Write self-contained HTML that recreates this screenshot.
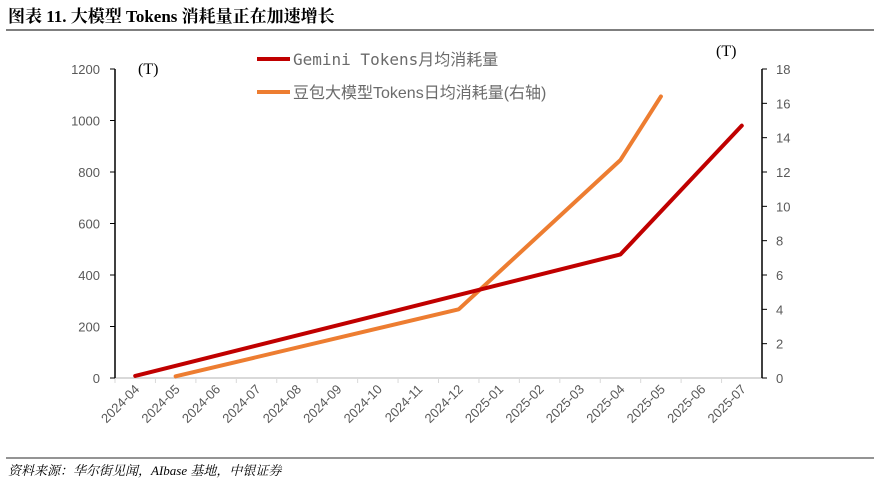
<!DOCTYPE html>
<html><head><meta charset="utf-8"><style>
body{margin:0;background:#fff;width:880px;height:484px;overflow:hidden}
svg text{font-family:"Liberation Sans","Noto Sans CJK SC",sans-serif}
</style></head><body>
<svg id="c" width="880" height="484">
<text x="8" y="22" font-size="17" font-weight="bold" style="font-family:'Liberation Serif','Noto Serif CJK SC',serif">图表 11. 大模型 Tokens 消耗量正在加速增长</text>
<line x1="6" y1="30" x2="874" y2="30" stroke="#333" stroke-width="1.2"/>
<line x1="6" y1="458" x2="874" y2="458" stroke="#555" stroke-width="1.2"/>
<text x="8" y="475" font-size="13" font-style="italic" style="font-family:'Liberation Serif','Noto Serif CJK SC',serif">资料来源：华尔街见闻，AIbase 基地，中银证券</text>
<text x="138" y="74" font-size="16" style="font-family:'Liberation Serif',serif">(T)</text>
<text x="716" y="56" font-size="16" style="font-family:'Liberation Serif',serif">(T)</text>
<g>
<line x1="257" y1="59" x2="290" y2="59" stroke="#c00000" stroke-width="4"/>
<text x="293" y="65" font-size="16" fill="#6b6b6b" style="font-family:'DejaVu Sans Mono','Noto Sans CJK SC',monospace">Gemini Tokens月均消耗量</text>
<line x1="257" y1="92" x2="290" y2="92" stroke="#ed7d31" stroke-width="4"/>
<text x="293" y="98" font-size="16" fill="#6b6b6b" style="font-family:'Liberation Sans','Noto Sans CJK SC',sans-serif">豆包大模型Tokens日均消耗量(右轴)</text>
</g>
<g id="g"></g>
</svg>
<script>
const categories=["2024-04","2024-05","2024-06","2024-07","2024-08","2024-09","2024-10","2024-11","2024-12","2025-01","2025-02","2025-03","2025-04","2025-05","2025-06","2025-07"];
const gemini=[8,null,null,null,null,null,null,null,null,null,null,null,480,null,null,980];
const doubao=[null,0.1,null,null,null,null,null,null,4,null,null,null,12.7,16.4,null,null];
const leftTicks=[0,200,400,600,800,1000,1200];
const rightTicks=[0,2,4,6,8,10,12,14,16,18];
const X0=115,X1=762,Y0=378,Y1=69,NS="http://www.w3.org/2000/svg";
const slot=(X1-X0)/categories.length;
const x=i=>X0+(i+0.5)*slot;
const yL=v=>Y0-(v/1200)*(Y0-Y1);
const yR=v=>Y0-(v/18)*(Y0-Y1);
const g=document.getElementById('g');
function mk(t,a){const e=document.createElementNS(NS,t);for(const k in a)e.setAttribute(k,a[k]);g.appendChild(e);return e;}
let e=mk('line',{x1:X0,y1:Y0,x2:X1,y2:Y0,stroke:'#d9d9d9','stroke-width':2});


categories.forEach((c,i)=>{
 let t=mk('line',{x1:X0+i*slot,y1:Y0,x2:X0+i*slot,y2:Y0+5,stroke:'#d9d9d9'});
 
 
 const cx=x(i)+5,cy=Y0+12;
 let l=mk('text',{x:cx,y:cy,'font-size':13,fill:'#595959','text-anchor':'end',transform:`rotate(-45 ${cx} ${cy})`});
 l.textContent=c;
 
 
});
mk('line',{x1:X1,y1:Y0,x2:X1+5,y2:Y0,stroke:'#d9d9d9'});
e=mk('line',{x1:X0,y1:Y1,x2:X0,y2:Y0,stroke:'#000','stroke-width':1.5});


e=mk('line',{x1:X1,y1:Y1,x2:X1,y2:Y0,stroke:'#000','stroke-width':1.5});


leftTicks.forEach(v=>{
 mk('line',{x1:X0-5,y1:yL(v),x2:X0,y2:yL(v),stroke:'#000'});
 let t=mk('text',{x:X0-15,y:yL(v)+5,'font-size':13,fill:'#595959','text-anchor':'end'});
 t.textContent=v;
 
 
});
rightTicks.forEach(v=>{
 mk('line',{x1:X1,y1:yR(v),x2:X1+5,y2:yR(v),stroke:'#000'});
 let t=mk('text',{x:X1+14,y:yR(v)+5,'font-size':13,fill:'#595959'});
 t.textContent=v;
 
 
});
function series(arr,yf,col,name){
 const pts=[];arr.forEach((v,i)=>{if(v!==null)pts.push(x(i)+','+yf(v));});
 let p=mk('polyline',{points:pts.join(' '),fill:'none',stroke:col,'stroke-width':4,'stroke-linecap':'round','stroke-linejoin':'round'});
 
 
}
series(doubao,yR,'#ed7d31','doubao-line');
series(gemini,yL,'#c00000','gemini-line');
</script>
</body></html>
